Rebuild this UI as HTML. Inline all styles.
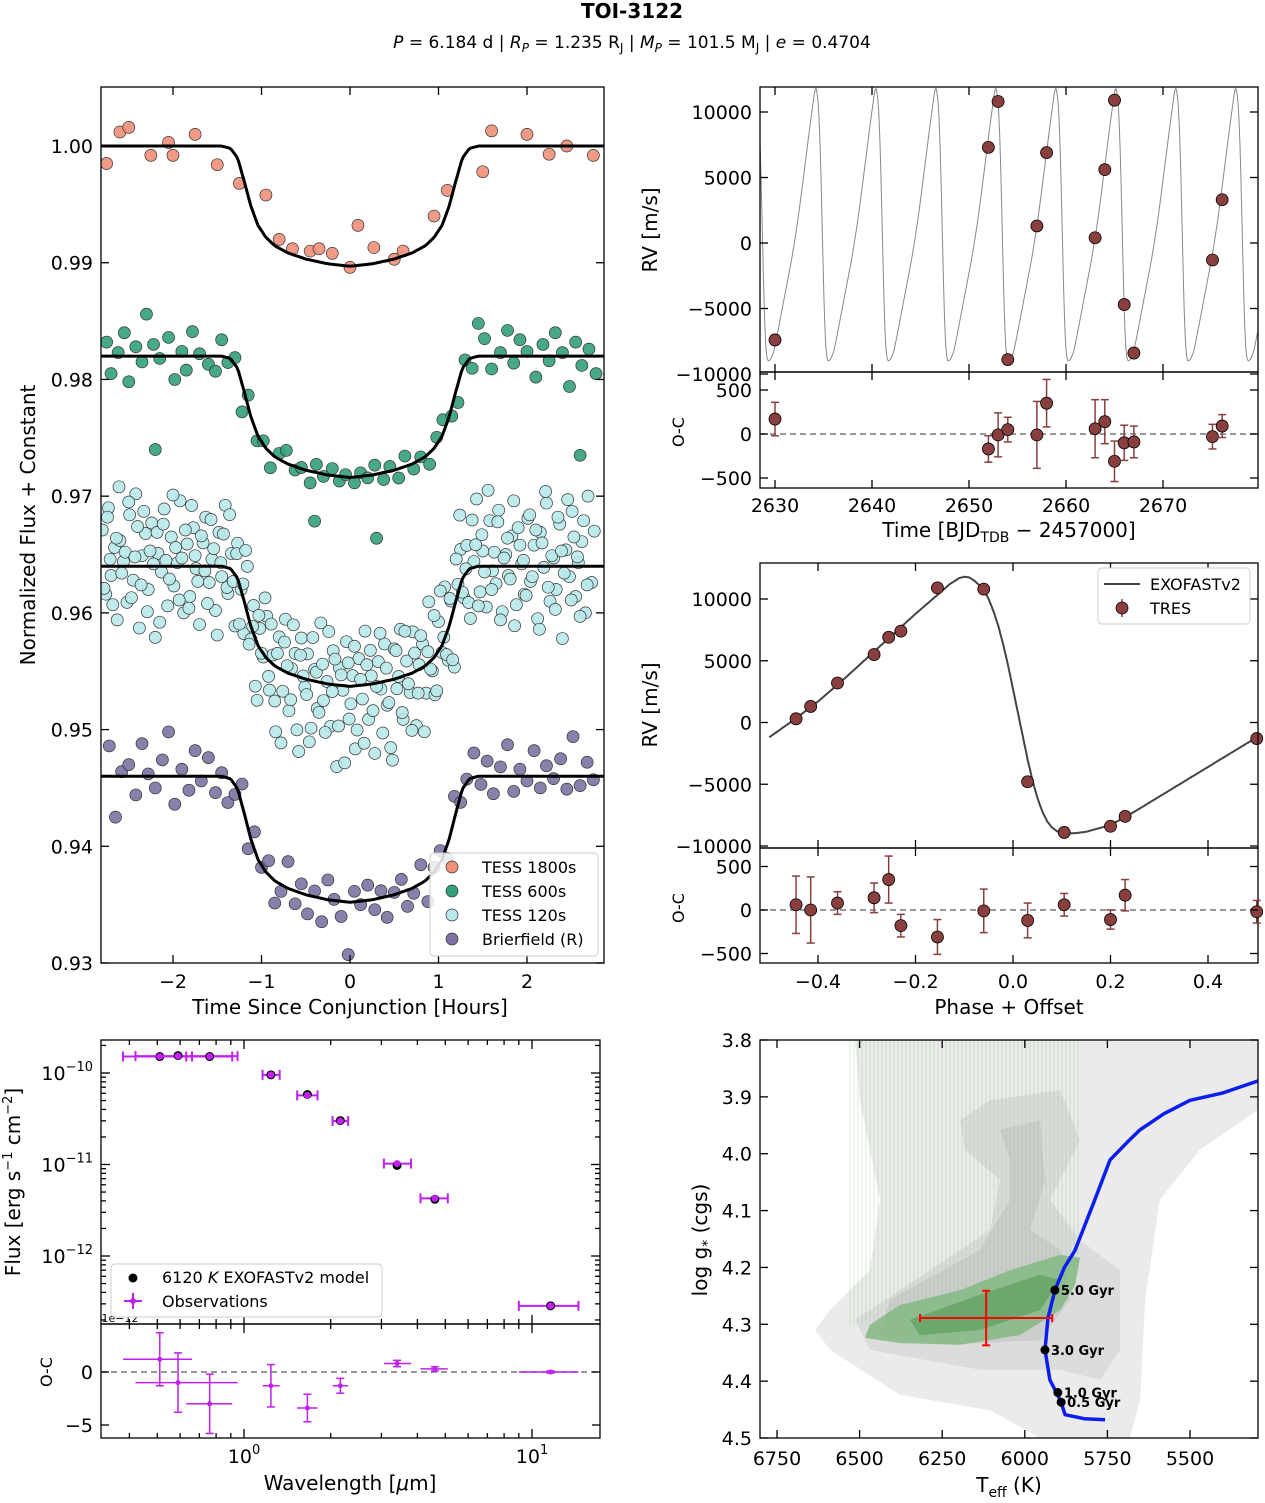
<!DOCTYPE html>
<html><head><meta charset="utf-8"><style>
body{margin:0;background:#fff}
svg text{font-family:"DejaVu Sans","Liberation Sans",sans-serif;fill:#000}
</style></head><body>
<svg id="fig" xmlns="http://www.w3.org/2000/svg" width="1265" height="1498" viewBox="0 0 1265 1498">
<text x="632" y="18" text-anchor="middle" font-size="20" font-weight="bold">TOI-3122</text>
<text x="632" y="48" text-anchor="middle" font-size="17"><tspan font-style="italic">P</tspan> = 6.184 d | <tspan font-style="italic">R</tspan><tspan font-size="12" dy="4" font-style="italic">P</tspan><tspan dy="-4"> = 1.235 R</tspan><tspan font-size="12" dy="4">J</tspan><tspan dy="-4"> | </tspan><tspan font-style="italic">M</tspan><tspan font-size="12" dy="4" font-style="italic">P</tspan><tspan dy="-4"> = 101.5 M</tspan><tspan font-size="12" dy="4">J</tspan><tspan dy="-4"> | </tspan><tspan font-style="italic">e</tspan> = 0.4704</text>
<g id="g1"></g><g id="g2"></g><g id="g3"></g><g id="g4"></g><g id="g5"></g>
</svg>
<script>
// ===== Transit data =====
const modelT = [-3,-1.45,-1.35,-1.27,-1.2,-1.12,-1.04,-0.95,-0.85,-0.7,-0.5,-0.25,0,0.25,0.5,0.7,0.85,0.95,1.04,1.12,1.2,1.27,1.35,1.45,3];
const modelFrac = [0,0,0.02,0.1,0.28,0.5,0.66,0.76,0.83,0.89,0.94,0.98,1,0.98,0.94,0.89,0.83,0.76,0.66,0.5,0.28,0.1,0.02,0,0];
const baselines = [1.000,0.982,0.964,0.946];
const depths = [0.0103,0.0104,0.0103,0.0108];
const t1800 = [-2.75,-2.6,-2.5,-2.25,-2.05,-2.0,-1.75,-1.5,-1.25,-0.95,-0.8,-0.65,-0.45,-0.35,-0.2,0.0,0.09,0.27,0.5,0.6,0.95,1.1,1.5,1.6,2.0,2.25,2.45,2.75];
const f1800 = [0.9985,1.0012,1.0016,0.9992,1.0003,0.9992,1.0010,0.9984,0.9968,0.9958,0.9920,0.9912,0.9910,0.9912,0.9908,0.9896,0.9932,0.9913,0.9903,0.9910,0.9940,0.9962,0.9978,1.0013,1.0010,0.9993,1.0000,0.9992];
const t600 = [-2.75,-2.7,-2.62,-2.55,-2.5,-2.42,-2.35,-2.3,-2.22,-2.15,-2.05,-1.98,-1.9,-1.85,-1.78,-1.7,-1.6,-1.52,-1.45,-1.38,-1.3,-1.22,-1.15,-1.05,-0.98,-0.9,-0.8,-0.72,-0.62,-0.55,-0.45,-0.38,-0.3,-0.2,-0.12,-0.05,0.05,0.12,0.2,0.28,0.38,0.45,0.55,0.62,0.72,0.8,0.9,0.98,1.05,1.15,1.22,1.3,1.38,1.45,1.52,1.6,1.7,1.78,1.85,1.92,2.0,2.1,2.18,2.25,2.32,2.4,2.48,2.55,2.62,2.7,2.78,-0.4,0.3,-2.2,2.6];
const r600 = [1.2,-1.5,0.3,2.0,-2.2,0.8,-0.5,3.6,1.0,-0.2,1.6,-2.0,0.4,-1.2,2.1,0.2,-0.7,-1.3,1.4,-0.4,0.6,-2.4,1.0,-0.6,0.3,-1.3,0.5,1.1,-0.3,0.1,-1.0,0.7,-0.2,0.6,-0.4,0.2,-0.5,0.3,-0.2,0.8,-0.6,0.4,-0.8,0.9,-0.5,0.2,-1.0,0.6,1.2,-0.8,-1.6,0.4,-0.9,2.8,1.5,-1.1,0.3,2.2,-0.6,1.4,0.4,-1.8,1.0,-0.4,2.0,0.3,-2.6,1.2,-0.8,0.6,-1.5,-4.2,-5.5,-8.0,-8.5];
const t120 = [-2.8,-2.76,-2.73,-2.7,-2.66,-2.63,-2.6,-2.56,-2.52,-2.49,-2.45,-2.42,-2.38,-2.35,-2.31,-2.28,-2.24,-2.2,-2.17,-2.13,-2.1,-2.06,-2.02,-1.99,-1.95,-1.92,-1.88,-1.84,-1.81,-1.77,-1.74,-1.7,-1.66,-1.63,-1.59,-1.56,-1.52,-1.48,-1.45,-1.41,-1.38,-1.34,-1.3,-1.27,-1.23,-1.2,-1.16,-1.12,-1.09,-1.05,-1.02,-0.98,-0.94,-0.91,-0.87,-0.84,-0.8,-0.76,-0.73,-0.69,-0.66,-0.62,-0.58,-0.55,-0.51,-0.48,-0.44,-0.4,-0.37,-0.33,-0.3,-0.26,-0.22,-0.19,-0.15,-0.12,-0.08,-0.04,-0.01,0.03,0.06,0.1,0.14,0.17,0.21,0.24,0.28,0.32,0.35,0.39,0.42,0.46,0.5,0.53,0.57,0.6,0.64,0.68,0.71,0.75,0.78,0.82,0.86,0.89,0.93,0.96,1.0,1.04,1.07,1.11,1.14,1.18,1.22,1.25,1.29,1.32,1.36,1.4,1.43,1.47,1.5,1.54,1.58,1.61,1.65,1.68,1.72,1.76,1.79,1.83,1.86,1.9,1.94,1.97,2.01,2.04,2.08,2.12,2.15,2.19,2.22,2.26,2.3,2.33,2.37,2.4,2.44,2.48,2.51,2.55,2.58,2.62,2.66,2.69,2.73,2.76,2.8];
const r120 = [3.1,-2.4,5.0,-0.8,1.6,-4.6,2.2,0.4,-3.1,4.4,-1.2,6.2,-5.3,0.9,2.8,-2.0,3.7,-6.1,1.1,-0.5,4.9,-3.4,2.5,-1.7,0.3,5.6,-4.0,1.9,-2.6,3.3,-0.2,-5.0,2.0,4.2,-1.4,0.6,-3.8,2.9,-0.9,5.3,-2.2,1.4,-4.4,3.0,0.1,-2.9,4.0,-1.1,2.4,-4.9,1.7,-0.3,3.6,-2.5,0.8,-5.6,2.7,-1.8,4.5,-3.2,0.5,1.9,-6.4,3.4,-0.7,2.2,-4.1,1.0,-2.3,5.1,-1.5,0.2,-3.6,2.9,-7.0,1.5,-0.4,3.8,-2.8,0.9,-5.4,2.3,-1.2,4.6,-3.0,0.7,-6.0,1.8,-0.6,3.2,-2.1,-5.8,2.6,-0.9,4.1,-3.7,1.2,-1.6,3.5,-4.7,0.4,2.0,-2.4,5.2,-1.0,-3.3,2.5,-0.6,4.4,-2.7,1.6,-5.2,0.8,3.0,-1.9,2.3,-4.3,0.5,5.8,-2.2,1.3,-3.5,3.9,-0.4,-1.5,4.8,-3.9,1.0,-0.8,2.6,-5.1,3.3,0.2,-2.4,4.1,-1.3,1.8,-4.5,2.9,-0.1,5.4,-3.0,0.7,-2.0,3.6,-6.2,1.4,-0.9,4.7,-2.6,0.3,2.1,-4.0,6.0,-1.4,3.0];
const t120b = [-2.78,-2.74,-2.71,-2.68,-2.64,-2.61,-2.58,-2.54,-2.5,-2.47,-2.43,-2.4,-2.36,-2.33,-2.29,-2.26,-2.22,-2.18,-2.15,-2.11,-2.08,-2.04,-2.0,-1.97,-1.93,-1.9,-1.86,-1.82,-1.79,-1.75,-1.72,-1.68,-1.64,-1.61,-1.57,-1.54,-1.5,-1.46,-1.43,-1.39,-1.36,-1.32,-1.28,-1.25,-1.21,-1.18,-1.14,-1.1,-1.07,-1.03,-1.0,-0.96,-0.92,-0.89,-0.85,-0.82,-0.78,-0.74,-0.71,-0.67,-0.64,-0.6,-0.56,-0.53,-0.49,-0.46,-0.42,-0.38,-0.35,-0.31,-0.28,-0.24,-0.2,-0.17,-0.13,-0.1,-0.06,-0.02,0.01,0.05,0.08,0.12,0.16,0.19,0.23,0.26,0.3,0.34,0.37,0.41,0.44,0.48,0.52,0.55,0.59,0.62,0.66,0.7,0.73,0.77,0.8,0.84,0.88,0.91,0.95,0.98,1.02,1.06,1.09,1.13,1.16,1.2,1.24,1.27,1.31,1.34,1.38,1.42,1.45,1.49,1.52,1.56,1.6,1.63,1.67,1.7,1.74,1.78,1.81,1.85,1.88,1.92,1.96,1.99,2.03,2.06,2.1,2.14,2.17,2.21,2.24,2.28,2.32,2.35,2.39,2.42,2.46,2.5,2.53,2.57,2.6,2.64,2.68,2.71,2.75,2.78];
const r120b = [-1.9,4.2,0.6,-3.3,2.4,6.8,-0.6,1.2,5.5,-2.7,0.8,3.4,-1.6,4.7,-3.9,1.3,0.2,2.9,-4.8,3.6,0.5,-1.1,6.1,1.6,-2.9,0.7,3.1,-3.6,5.2,0.9,-1.3,2.6,-0.4,-3.2,4.0,1.5,-5.9,0.3,2.8,-1.7,4.6,-0.8,2.0,-3.4,1.1,4.8,-2.1,0.4,-4.1,2.7,-0.2,5.0,-1.4,3.3,-3.0,1.2,-6.3,2.5,0.6,-2.2,4.3,-4.6,1.9,0.2,-1.3,-5.3,3.7,0.8,-2.6,1.6,-4.2,4.5,-0.6,2.2,-3.5,0.9,-6.6,2.0,-1.5,3.4,-3.8,0.5,-5.0,1.7,2.9,-2.3,-0.3,4.2,-4.4,1.1,-1.9,-6.9,2.4,0.1,-3.1,3.8,-0.8,-4.9,1.6,-2.0,2.8,-5.6,1.0,-0.7,3.6,-3.2,4.9,0.3,-1.8,2.1,-4.0,3.5,6.2,-1.2,0.4,-2.8,4.1,1.9,-3.4,2.7,-0.5,6.5,-2.0,1.2,3.8,-4.6,0.7,2.4,-1.1,5.6,-3.3,1.8,0.5,-2.5,4.4,-0.9,3.1,-5.4,2.0,6.4,-1.8,0.9,-3.7,4.2,1.3,-0.6,5.7,-2.9,2.5,0.8,-4.3,3.9,-1.6];
const tBri = [-2.72,-2.65,-2.58,-2.5,-2.42,-2.35,-2.28,-2.2,-2.12,-2.05,-1.98,-1.9,-1.82,-1.75,-1.68,-1.6,-1.52,-1.45,-1.38,-1.3,-1.22,-1.15,-1.08,-1.0,-0.92,-0.85,-0.78,-0.7,-0.62,-0.55,-0.48,-0.4,-0.32,-0.25,-0.18,-0.1,-0.02,0.05,0.12,0.2,0.28,0.35,0.42,0.5,0.58,0.65,0.72,0.8,0.88,0.95,1.02,1.1,1.18,1.25,1.32,1.4,1.48,1.55,1.62,1.7,1.78,1.85,1.92,2.0,2.08,2.15,2.22,2.3,2.38,2.45,2.52,2.6,2.68,2.75];
const rBri = [2.6,-3.5,0.4,1.0,-1.6,2.8,0.2,-1.0,1.4,3.8,-2.4,0.6,-1.2,2.2,-0.4,1.6,-1.4,0.3,-2.1,-0.8,1.8,-1.7,1.5,-0.2,1.2,-1.9,-0.6,2.3,-1.1,0.8,-1.6,0.5,-2.0,1.7,0.1,-1.3,-4.5,0.9,-0.3,1.3,-0.9,0.6,-1.8,0.2,1.1,-1.4,-0.5,1.6,-2.0,0.4,1.0,-1.2,1.9,-0.6,0.3,2.1,-0.7,1.3,-1.5,0.8,2.7,-1.3,0.6,-0.4,2.2,-1.0,0.9,-0.2,1.5,-1.1,3.4,-0.8,1.2,-0.3];

// ===== RV data =====
const phaseModel = [-0.5,-0.45,-0.4,-0.35,-0.3,-0.25,-0.2,-0.15,-0.13,-0.11,-0.1,-0.09,-0.08,-0.07,-0.06,-0.05,-0.04,-0.03,-0.02,-0.01,0,0.01,0.02,0.03,0.04,0.05,0.06,0.07,0.08,0.09,0.1,0.11,0.13,0.15,0.2,0.25,0.3,0.35,0.4,0.45,0.5];
const rvModel = [-1200,200,1700,3400,5200,7000,8800,10500,11200,11700,11800,11750,11500,11150,10700,10000,9000,7800,6300,4600,2700,800,-1100,-3000,-4700,-6100,-7200,-8000,-8500,-8800,-8950,-9000,-8950,-8850,-8300,-7200,-6000,-4800,-3600,-2400,-1200];
const period = [6.184];
const tPeak = [2634.2];
const rvTime = [2630.0,2652.0,2653.0,2654.0,2657.0,2658.0,2663.0,2664.0,2665.0,2666.0,2667.0,2675.1,2676.1];
const rvVal = [-7400,7300,10800,-8900,1300,6900,400,5600,10900,-4700,-8400,-1300,3300];
const rvOC = [170,-170,-10,50,-10,350,60,140,-310,-100,-90,-30,90];
const rvOCerr = [190,150,250,140,380,270,330,250,230,200,180,140,130];
const rvPhase = [-0.445,-0.415,-0.36,-0.285,-0.255,-0.23,-0.155,-0.06,0.03,0.105,0.2,0.23,0.5];
const rvPhVal = [300,1300,3200,5500,6900,7400,10900,10800,-4800,-8900,-8400,-7600,-1300];
const phOC = [60,0,80,140,350,-180,-310,-10,-120,60,-110,170,-20];
const phOCerr = [330,380,130,170,270,130,200,250,200,130,110,180,130];

// ===== SED data =====
const sedLam = [0.51,0.59,0.76,1.24,1.66,2.16,3.4,4.6,11.6];
const sedLamLo = [0.38,0.42,0.63,1.16,1.53,2.03,3.06,4.1,9.0];
const sedLamHi = [0.66,0.95,0.91,1.33,1.8,2.3,3.8,5.1,14.5];
const sedObs = [-9.82,-9.815,-9.82,-10.02,-10.245,-10.525,-10.99,-11.37,-12.545];
const sedModel = [-9.82,-9.81,-9.82,-10.02,-10.235,-10.52,-11.01,-11.38,-12.545];
const sedOC = [1.2,-1.0,-3.0,-1.3,-3.4,-1.3,0.8,0.3,0.0];
const sedOCerr = [2.5,2.8,2.8,2.0,1.3,0.7,0.3,0.2,0.1];

// ===== HR data =====
const trackT = [5757,5820,5878,5893,5924,5939,5930,5909,5880,5848,5788,5742,5690,5651,5580,5500,5400,5294];
const trackG = [4.468,4.466,4.459,4.433,4.398,4.345,4.29,4.24,4.2,4.17,4.081,4.011,3.98,3.958,3.93,3.906,3.893,3.872];
const ageT = [5909,5939,5900,5890];
const ageG = [4.24,4.345,4.42,4.437];
const ageLbl = ["5.0 Gyr","3.0 Gyr","1.0 Gyr","0.5 Gyr"];
const starT = [6117], starTerr=[200], starG=[4.289], starGerr=[0.048];
const c1T=[6514,5294,5294,5470,5591,5636,5651,5682,5954,6105,6378,6590,6635,6590,6469,6438,6499];
const c1G=[3.80,3.80,3.923,3.993,4.081,4.257,4.433,4.5,4.5,4.451,4.424,4.345,4.31,4.275,4.205,4.081,3.906];
const c2T=[6196,6105,5893,5833,5924,5833,5712,5712,5772,5893,6136,6469,6514,6378,6105,6075,6181];
const c2G=[3.941,3.906,3.888,3.976,4.081,4.152,4.205,4.345,4.398,4.38,4.38,4.345,4.292,4.24,4.134,4.046,3.993];
const c3T=[6075,5954,5939,5984,5893,5863,5954,6226,6438,6408,6136,6045,6045];
const c3G=[3.958,3.941,4.046,4.134,4.169,4.257,4.328,4.336,4.319,4.257,4.169,4.081,4.011];
const c4T=[6469,6378,6196,6045,5893,5833,5848,5893,6015,6196,6378,6484];
const c4G=[4.301,4.266,4.24,4.205,4.178,4.183,4.231,4.275,4.319,4.336,4.333,4.324];
const c5T=[6348,6136,5954,5893,5954,6136,6318];
const c5G=[4.292,4.248,4.213,4.222,4.275,4.31,4.319];

const NS="http://www.w3.org/2000/svg";
function mk(parent,tag,attrs,txt){const e=document.createElementNS(NS,tag);for(const k in attrs)e.setAttribute(k,attrs[k]);if(txt!==undefined)e.textContent=txt;parent.appendChild(e);return e;}
function interp(xa,ya,x){if(x<=xa[0])return ya[0];for(let i=1;i<xa.length;i++){if(x<=xa[i]){const f=(x-xa[i-1])/(xa[i]-xa[i-1]);return ya[i-1]+f*(ya[i]-ya[i-1]);}}return ya[ya.length-1];}
function frame(g,L,T,R,B,name){const r=mk(g,'rect',{x:L,y:T,width:R-L,height:B-T,fill:'none',stroke:'#000','stroke-width':1.3});}
function xticks(g,vals,px,T,B,len){vals.forEach(v=>{const x=px(v);mk(g,'line',{x1:x,x2:x,y1:B,y2:B-len,stroke:'#000','stroke-width':1.3});mk(g,'line',{x1:x,x2:x,y1:T,y2:T+len,stroke:'#000','stroke-width':1.3});});}
function yticks(g,vals,py,L,R,len){vals.forEach(v=>{const y=py(v);mk(g,'line',{x1:L,x2:L+len,y1:y,y2:y,stroke:'#000','stroke-width':1.3});mk(g,'line',{x1:R,x2:R-len,y1:y,y2:y,stroke:'#000','stroke-width':1.3});});}
function label(g,x,y,txt,anchor,size,name,rot){const a={x:x,y:y,'text-anchor':anchor||'middle','font-size':size||19};if(rot)a.transform='rotate(-90 '+x+' '+y+')';const t=mk(g,'text',a,txt);return t;}
function smoothPath(pts){return 'M'+pts.map(p=>p[0].toFixed(1)+','+p[1].toFixed(1)).join('L');}

// ===== Panel 1: Transits =====
(function(){
const g=document.getElementById('g1');
const L=101,R=604,T=87,B=963;
const px=t=>350+t*88.5, py=f=>963-(f-0.93)*11671;
const cp=mk(g,'clipPath',{id:'cp1'});mk(cp,'rect',{x:L,y:T,width:R-L,height:B-T});
const dg=mk(g,'g',{'clip-path':'url(#cp1)'});
const model=(k,t)=>baselines[k]-depths[k]*interp(modelT,modelFrac,t);
const sets=[[t1800,null,'#f0907a','tess-1800s-point',0],[t600,r600,'#33a07c','tess-600s-point',1],[t120,r120,'#b8e9ea','tess-120s-point',2],[t120b,r120b,'#b8e9ea','tess-120s-point',2],[tBri,rBri,'#7d72a3','brierfield-point',3]];
sets.forEach(s=>{const k=s[4];s[0].forEach((t,i)=>{const f=k===0?f1800[i]:model(k,t)+s[1][i]*0.001;const c=mk(dg,'circle',{cx:px(t),cy:py(f),r:6,fill:s[2],stroke:'#333','stroke-width':0.7,'fill-opacity':0.9});});});
for(let k=0;k<4;k++){const pts=[];for(let t=-2.9;t<=2.9;t+=0.02)pts.push([px(t),py(model(k,t))]);const p=mk(dg,'path',{d:smoothPath(pts),fill:'none',stroke:'#000','stroke-width':3});}
frame(g,L,T,R,B,'transit-plot-frame');
const xt=[-2,-1,0,1,2];xticks(g,xt,px,T,B,8);
const yt=[0.93,0.94,0.95,0.96,0.97,0.98,0.99,1.00];yticks(g,yt,py,L,R,8);
xt.forEach(v=>label(g,px(v),988,v<0?'−'+Math.abs(v):String(v),'middle',19,'transit-x-tick'));
yt.forEach(v=>label(g,93,py(v)+7,v.toFixed(2),'end',19,'transit-y-tick'));
label(g,350,1014,'Time Since Conjunction [Hours]','middle',20,'transit-x-title');
label(g,35,525,'Normalized Flux + Constant','middle',20,'transit-y-title',true);
const lg=mk(g,'rect',{x:430,y:853,width:168,height:103,rx:4,fill:'#fff','fill-opacity':0.85,stroke:'#ccc'});
const names=['TESS 1800s','TESS 600s','TESS 120s','Brierfield (R)'];const cols=['#f0907a','#33a07c','#b8e9ea','#7d72a3'];
names.forEach((n,i)=>{const y=867+i*24;const c=mk(g,'circle',{cx:452,cy:y,r:6,fill:cols[i],stroke:'#333','stroke-width':0.7});label(g,482,y+6,n,'start',16,'legend-entry');});
})();

// ===== Panel 2: RV vs time =====
(function(){
const g=document.getElementById('g2');
const L=760,R=1258,T=87,B=372,B2=488;
const px=t=>775+(t-2630)*9.7, py=v=>243-v*0.0131, po=v=>434-v*0.088;
const cp=mk(g,'clipPath',{id:'cp2'});mk(cp,'rect',{x:L,y:T,width:R-L,height:B-T});
const pts=[];for(let x=L;x<=R;x+=0.5){const t=2630+(x-775)/9.7;let ph=(t-tPeak[0])/period[0]-0.1;ph=ph-Math.floor(ph+0.5);pts.push([x,py(interp(phaseModel,rvModel,ph))]);}
const m=mk(g,'path',{d:smoothPath(pts),fill:'none',stroke:'#888','stroke-width':1,'clip-path':'url(#cp2)'});
rvTime.forEach((t,i)=>{const c=mk(g,'circle',{cx:px(t),cy:py(rvVal[i]),r:6,fill:'#8a3f3f',stroke:'#000','stroke-width':0.8});});
frame(g,L,T,R,B,'rv-time-frame');frame(g,L,B,R,B2,'rv-time-oc-frame');
const dl=mk(g,'line',{x1:L,x2:R,y1:po(0),y2:po(0),stroke:'#777','stroke-width':1.5,'stroke-dasharray':'6,4'});
rvTime.forEach((t,i)=>{const x=px(t),y=po(rvOC[i]),e=rvOCerr[i]*0.088;mk(g,'line',{x1:x,x2:x,y1:y-e,y2:y+e,stroke:'#8a3f3f','stroke-width':1.5});mk(g,'line',{x1:x-4,x2:x+4,y1:y-e,y2:y-e,stroke:'#8a3f3f','stroke-width':1.5});mk(g,'line',{x1:x-4,x2:x+4,y1:y+e,y2:y+e,stroke:'#8a3f3f','stroke-width':1.5});const c=mk(g,'circle',{cx:x,cy:y,r:6,fill:'#8a3f3f',stroke:'#000','stroke-width':0.8});});
const xt=[2630,2640,2650,2660,2670];xticks(g,xt,px,T,B,8);xticks(g,xt,px,B,B2,8);
const yt=[-10000,-5000,0,5000,10000];yticks(g,yt,py,L,R,8);yticks(g,[-500,0,500],po,L,R,8);
xt.forEach(v=>label(g,px(v),512,String(v),'middle',19,'rv-time-x-tick'));
yt.forEach(v=>label(g,752,py(v)+7,v<0?'−'+Math.abs(v):String(v),'end',19,'rv-time-y-tick'));
[-500,0,500].forEach(v=>label(g,752,po(v)+7,v<0?'−'+Math.abs(v):String(v),'end',19,'rv-oc-y-tick'));
const xl=label(g,1009,537,'','middle',20,'rv-time-x-title');xl.innerHTML='Time [BJD<tspan font-size="14" dy="5">TDB</tspan><tspan dy="-5"> − 2457000]</tspan>';
label(g,657,230,'RV [m/s]','middle',20,'rv-time-y-title',true);
label(g,684,432,'O-C','middle',16,'rv-oc-y-title',true);
})();

// ===== Panel 3: RV phase =====
(function(){
const g=document.getElementById('g3');
const L=760,R=1258,T=563,B=848,B2=963;
const px=p=>818+(p+0.4)*487.5, py=v=>722.5-v*0.01235, po=v=>910-v*0.087;
const cp=mk(g,'clipPath',{id:'cp3'});mk(cp,'rect',{x:L,y:T,width:R-L,height:B-T});
const pts=[];for(let p=-0.5;p<=0.5;p+=0.002)pts.push([px(p),py(interp(phaseModel,rvModel,p))]);
const m=mk(g,'path',{d:smoothPath(pts),fill:'none',stroke:'#444','stroke-width':2,'clip-path':'url(#cp3)'});
rvPhase.forEach((p,i)=>{const c=mk(g,'circle',{cx:px(p),cy:py(rvPhVal[i]),r:6,fill:'#8a3f3f',stroke:'#000','stroke-width':0.8});});
frame(g,L,T,R,B,'rv-phase-frame');frame(g,L,B,R,B2,'rv-phase-oc-frame');
const dl=mk(g,'line',{x1:L,x2:R,y1:po(0),y2:po(0),stroke:'#777','stroke-width':1.5,'stroke-dasharray':'6,4'});
rvPhase.forEach((p,i)=>{const x=px(p),y=po(phOC[i]),e=phOCerr[i]*0.087;mk(g,'line',{x1:x,x2:x,y1:y-e,y2:y+e,stroke:'#8a3f3f','stroke-width':1.5});mk(g,'line',{x1:x-4,x2:x+4,y1:y-e,y2:y-e,stroke:'#8a3f3f','stroke-width':1.5});mk(g,'line',{x1:x-4,x2:x+4,y1:y+e,y2:y+e,stroke:'#8a3f3f','stroke-width':1.5});const c=mk(g,'circle',{cx:x,cy:y,r:6,fill:'#8a3f3f',stroke:'#000','stroke-width':0.8});});
const xt=[-0.4,-0.2,0,0.2,0.4];xticks(g,xt,px,T,B,8);xticks(g,xt,px,B,B2,8);
const yt=[-10000,-5000,0,5000,10000];yticks(g,yt,py,L,R,8);yticks(g,[-500,0,500],po,L,R,8);
xt.forEach(v=>label(g,px(v),988,(v<0?'−':'')+Math.abs(v).toFixed(1),'middle',19,'rv-phase-x-tick'));
yt.forEach(v=>label(g,752,py(v)+7,v<0?'−'+Math.abs(v):String(v),'end',19,'rv-phase-y-tick'));
[-500,0,500].forEach(v=>label(g,752,po(v)+7,v<0?'−'+Math.abs(v):String(v),'end',19,'phase-oc-y-tick'));
label(g,1009,1014,'Phase + Offset','middle',20,'rv-phase-x-title');
label(g,657,705,'RV [m/s]','middle',20,'rv-phase-y-title',true);
label(g,684,908,'O-C','middle',16,'phase-oc-y-title',true);
const lg=mk(g,'rect',{x:1098,y:568,width:152,height:56,rx:4,fill:'#fff',stroke:'#ccc'});
mk(g,'line',{x1:1104,x2:1140,y1:584,y2:584,stroke:'#444','stroke-width':2});
label(g,1150,590,'EXOFASTv2','start',16,'legend-entry-model');
mk(g,'line',{x1:1122,x2:1122,y1:599,y2:617,stroke:'#8a3f3f','stroke-width':1.5});
const lc=mk(g,'circle',{cx:1122,cy:608,r:6,fill:'#8a3f3f',stroke:'#000','stroke-width':0.8});
label(g,1150,614,'TRES','start',16,'legend-entry-tres');
})();

// ===== Panel 4: SED =====
(function(){
const g=document.getElementById('g4');
const L=101,R=600,T=1040,B=1324,B2=1438;
const px=l=>244+Math.log10(l)*288, py=lf=>1073-(lf+10)*91.5, po=v=>1372-v*10.6;
const col='#c020f0';
sedLam.forEach((l,i)=>{const x=px(l),y=py(sedObs[i]);mk(g,'line',{x1:px(sedLamLo[i]),x2:px(sedLamHi[i]),y1:y,y2:y,stroke:col,'stroke-width':2});[sedLamLo[i],sedLamHi[i]].forEach(q=>mk(g,'line',{x1:px(q),x2:px(q),y1:y-5,y2:y+5,stroke:col,'stroke-width':2}));const c=mk(g,'circle',{cx:x,cy:py(sedModel[i]),r:4.5,fill:'#000'});const o=mk(g,'circle',{cx:x,cy:y,r:3.5,fill:col});});
frame(g,L,T,R,B,'sed-frame');frame(g,L,B,R,B2,'sed-oc-frame');
const dl=mk(g,'line',{x1:L,x2:R,y1:po(0),y2:po(0),stroke:'#777','stroke-width':1.5,'stroke-dasharray':'6,4'});
sedLam.forEach((l,i)=>{const x=px(l),y=po(sedOC[i]),e=sedOCerr[i]*10.6;mk(g,'line',{x1:px(sedLamLo[i]),x2:px(sedLamHi[i]),y1:y,y2:y,stroke:col,'stroke-width':1.5});mk(g,'line',{x1:x,x2:x,y1:y-e,y2:y+e,stroke:col,'stroke-width':1.5});mk(g,'line',{x1:x-4,x2:x+4,y1:y-e,y2:y-e,stroke:col,'stroke-width':1.5});mk(g,'line',{x1:x-4,x2:x+4,y1:y+e,y2:y+e,stroke:col,'stroke-width':1.5});const c=mk(g,'circle',{cx:x,cy:y,r:2.5,fill:col});});
xticks(g,[1,10],px,T,B,9);xticks(g,[1,10],px,B,B2,9);
const minor=[0.4,0.5,0.6,0.7,0.8,0.9,2,3,4,5,6,7,8,9];xticks(g,minor,px,T,B,5);xticks(g,minor,px,B,B2,5);
yticks(g,[-10,-11,-12],py,L,R,9);
const ym=[];[-10,-11,-12,-13].forEach(d=>{for(let k=2;k<=9;k++)ym.push(d+Math.log10(k));});yticks(g,ym.filter(v=>py(v)>T&&py(v)<B),py,L,R,5);
yticks(g,[0,-5],po,L,R,8);
[[-10,'−10'],[-11,'−11'],[-12,'−12']].forEach(a=>{const t=label(g,93,py(a[0])+7,'','end',19,'sed-y-tick');t.innerHTML='10<tspan font-size="13" dy="-9">'+a[1]+'</tspan>';});
[[1,'0'],[10,'1']].forEach(a=>{const t=label(g,px(a[0]),1463,'','middle',19,'sed-x-tick');t.innerHTML='10<tspan font-size="13" dy="-9">'+a[1]+'</tspan>';});
label(g,93,po(0)+7,'0','end',19,'sed-oc-y-tick');label(g,93,po(-5)+7,'−5','end',19,'sed-oc-y-tick');
label(g,120,1322,'1e−12','middle',11,'sed-oc-offset-label');
const xl=label(g,350,1490,'','middle',20,'sed-x-title');xl.innerHTML='Wavelength [<tspan font-style="italic">μ</tspan>m]';
const yl=label(g,20,1182,'','middle',20,'sed-y-title',true);yl.innerHTML='Flux [erg s<tspan font-size="13" dy="-8">−1</tspan><tspan dy="8"> cm</tspan><tspan font-size="13" dy="-8">−2</tspan><tspan dy="8">]</tspan>';
label(g,52,1372,'O-C','middle',16,'sed-oc-y-title',true);
const lg=mk(g,'rect',{x:111,y:1264,width:271,height:53,rx:4,fill:'#fff',stroke:'#ccc'});
mk(g,'circle',{cx:133,cy:1278,r:4.5,fill:'#000'});
const l1=label(g,162,1283,'','start',16,'legend-entry-model');l1.innerHTML='6120 <tspan font-style="italic">K</tspan> EXOFASTv2 model';
mk(g,'line',{x1:124,x2:142,y1:1301,y2:1301,stroke:col,'stroke-width':2});mk(g,'line',{x1:133,x2:133,y1:1293,y2:1309,stroke:col,'stroke-width':2});mk(g,'circle',{cx:133,cy:1301,r:3,fill:col});
label(g,162,1307,'Observations','start',16,'legend-entry-observations');
})();

// ===== Panel 5: HR =====
(function(){
const g=document.getElementById('g5');
const L=760,R=1258,T=1040,B=1438;
const px=t=>777+(6750-t)*0.3304, py=v=>1040+(v-3.8)*568.6;
const cp=mk(g,'clipPath',{id:'cp5'});mk(cp,'rect',{x:L,y:T,width:R-L,height:B-T});
const dg=mk(g,'g',{'clip-path':'url(#cp5)'});
const poly=(TT,GG,fill,op,name)=>{const p=mk(dg,'polygon',{points:TT.map((t,i)=>px(t).toFixed(1)+','+py(GG[i]).toFixed(1)).join(' '),fill:fill,'fill-opacity':op,'stroke':'none'});};
poly(c1T,c1G,'#ebebeb',1,'density-contour-outer');
poly(c2T,c2G,'#dcdcdc',1,'density-contour-mid');
poly(c3T,c3G,'#cdcdcd',1,'density-contour-inner');
for(let x=850;x<=1080;x+=4){mk(dg,'line',{x1:x,x2:x,y1:T,y2:1270+(1080-x)*0.25,stroke:'#6db86d','stroke-width':0.6,'stroke-opacity':0.45});}
poly(c4T,c4G,'#82b882',0.85,'posterior-green-region');
poly(c5T,c5G,'#5e9e5e',0.7,'posterior-green-core');
const pts=trackT.map((t,i)=>[px(t),py(trackG[i])]);
const tr=mk(dg,'path',{d:smoothPath(pts),fill:'none',stroke:'#0a1ef0','stroke-width':3.5,'stroke-linejoin':'round'});
const sx=px(starT[0]),sy=py(starG[0]),ex=starTerr[0]*0.3304,ey=starGerr[0]*568.6;
mk(g,'line',{x1:sx-ex,x2:sx+ex,y1:sy,y2:sy,stroke:'#f00','stroke-width':2});mk(g,'line',{x1:sx,x2:sx,y1:sy-ey,y2:sy+ey,stroke:'#f00','stroke-width':2});
[[sx-ex,sy,1],[sx+ex,sy,1],[sx,sy-ey,0],[sx,sy+ey,0]].forEach(a=>{if(a[2])mk(g,'line',{x1:a[0],x2:a[0],y1:a[1]-4,y2:a[1]+4,stroke:'#f00','stroke-width':2});else mk(g,'line',{x1:a[0]-4,x2:a[0]+4,y1:a[1],y2:a[1],stroke:'#f00','stroke-width':2});});
ageT.forEach((t,i)=>{const c=mk(g,'circle',{cx:px(t),cy:py(ageG[i]),r:4.5,fill:'#000'});const lb=label(g,px(t)+6,py(ageG[i])+5,ageLbl[i],'start',13,'age-label');lb.setAttribute('font-weight','bold');});
frame(g,L,T,R,B,'hr-frame');
const xt=[6750,6500,6250,6000,5750,5500];xticks(g,xt,px,T,B,8);
const yt=[3.8,3.9,4.0,4.1,4.2,4.3,4.4,4.5];yticks(g,yt,py,L,R,8);
xt.forEach(v=>label(g,px(v),1465,String(v),'middle',19,'hr-x-tick'));
yt.forEach(v=>label(g,752,py(v)+7,v.toFixed(1),'end',19,'hr-y-tick'));
const xl=label(g,1009,1492,'','middle',20,'hr-x-title');xl.innerHTML='T<tspan font-size="14" dy="5">eff</tspan><tspan dy="-5"> (K)</tspan>';
const yl=label(g,707,1240,'','middle',20,'hr-y-title',true);yl.innerHTML='log g<tspan font-size="14" dy="5">*</tspan><tspan dy="-5"> (cgs)</tspan>';
})();
</script>
</body></html>
